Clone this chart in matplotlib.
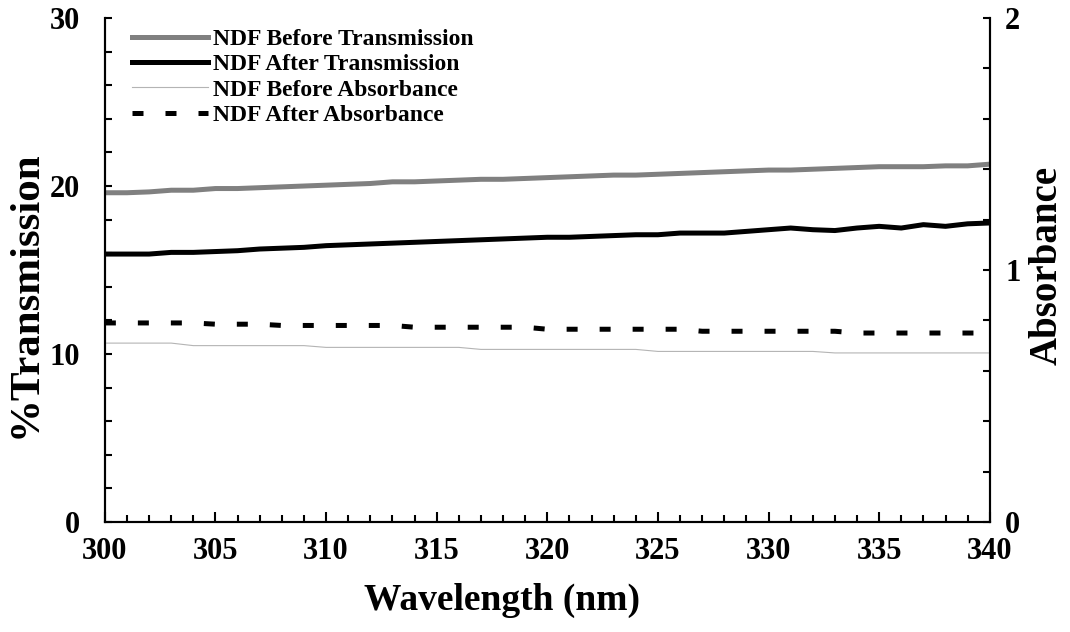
import matplotlib.pyplot as plt
from matplotlib.ticker import MultipleLocator

plt.rcParams.update(
    {
        "font.family": "serif",
        "font.serif": ["Liberation Serif", "DejaVu Serif"],
        "font.weight": "bold",
        "axes.linewidth": 1.5,
    }
)

wavelength = list(range(300, 341))

before_trans = [
    19.6, 19.6, 19.65, 19.75, 19.75, 19.85, 19.85, 19.9, 19.95, 20.0,
    20.05, 20.1, 20.15, 20.25, 20.25, 20.3, 20.35, 20.4, 20.4, 20.45,
    20.5, 20.55, 20.6, 20.65, 20.65, 20.7, 20.75, 20.8, 20.85, 20.9,
    20.95, 20.95, 21.0, 21.05, 21.1, 21.15, 21.15, 21.15, 21.2, 21.2,
    21.3,
]
after_trans = [
    15.95, 15.95, 15.95, 16.05, 16.05, 16.1, 16.15, 16.25, 16.3, 16.35,
    16.45, 16.5, 16.55, 16.6, 16.65, 16.7, 16.75, 16.8, 16.85, 16.9,
    16.95, 16.95, 17.0, 17.05, 17.1, 17.1, 17.2, 17.2, 17.2, 17.3,
    17.4, 17.5, 17.4, 17.35, 17.5, 17.6, 17.5, 17.7, 17.6, 17.75,
    17.8,
]
before_abs = [
    0.71, 0.71, 0.71, 0.71, 0.70, 0.70, 0.70, 0.70, 0.70, 0.70,
    0.693, 0.693, 0.693, 0.693, 0.693, 0.693, 0.693, 0.685, 0.685, 0.685,
    0.685, 0.685, 0.685, 0.685, 0.685, 0.677, 0.677, 0.677, 0.677, 0.677,
    0.677, 0.677, 0.677, 0.671, 0.671, 0.671, 0.671, 0.671, 0.671, 0.671,
    0.671,
]
after_abs = [
    0.79, 0.79, 0.79, 0.79, 0.79, 0.785, 0.785, 0.785, 0.78, 0.78,
    0.78, 0.78, 0.78, 0.78, 0.773, 0.773, 0.773, 0.773, 0.773, 0.773,
    0.765, 0.765, 0.765, 0.765, 0.765, 0.765, 0.765, 0.757, 0.757, 0.757,
    0.757, 0.757, 0.757, 0.757, 0.75, 0.75, 0.75, 0.75, 0.75, 0.75,
    0.75,
]

fig = plt.figure(figsize=(10.7, 6.32), dpi=100)
ax = fig.add_axes([0.098, 0.174, 0.827, 0.7975])
ax2 = ax.twinx()

l1, = ax.plot(wavelength, before_trans, color="#808080", lw=3.6,
              label="NDF Before Transmission")
l2, = ax.plot(wavelength, after_trans, color="black", lw=3.6,
              label="NDF After Transmission")
l3, = ax2.plot(wavelength, before_abs, color="#b4b4b4", lw=0.8,
               label="NDF Before Absorbance")
l4, = ax2.plot(wavelength, after_abs, color="black", lw=3.6,
               dashes=(2.2, 4.4), dash_capstyle="butt",
               label="NDF After Absorbance")

ax.set_xlim(300, 340)
ax.set_ylim(0, 30)
ax2.set_ylim(0, 2)

ax.xaxis.set_major_locator(MultipleLocator(5))
ax.xaxis.set_minor_locator(MultipleLocator(1))
ax.yaxis.set_major_locator(MultipleLocator(10))
ax.yaxis.set_minor_locator(MultipleLocator(2))
ax2.yaxis.set_major_locator(MultipleLocator(1))
ax2.yaxis.set_minor_locator(MultipleLocator(0.2))

ax.tick_params(axis="x", which="both", direction="in", labelsize=22, pad=11)
ax.tick_params(axis="x", which="major", length=7, width=1.5)
ax.tick_params(axis="x", which="minor", length=5, width=1.5)
ax.tick_params(axis="y", which="both", direction="in", labelsize=22,
               pad=18, length=5, width=1.5)
ax2.tick_params(axis="y", which="both", direction="in", labelsize=22,
                pad=11, length=5, width=1.5)

for a in (ax, ax2):
    a.spines["top"].set_visible(False)

ax.set_xlabel("Wavelength (nm)", fontsize=27, fontweight="bold")
ax.xaxis.set_label_coords(0.449, -0.155)
ax.xaxis.label.set_va("center")
ax.set_ylabel("%Transmission", fontsize=31, fontweight="bold")
ax.yaxis.set_label_coords(-0.09, 0.452)
ax.yaxis.label.set_va("center")
ax2.set_ylabel("Absorbance", fontsize=28, fontweight="bold")
ax2.yaxis.set_label_coords(1.065, 0.51)
ax2.yaxis.label.set_va("center")

fig.legend(
    handles=[l1, l2, l3, l4],
    loc="upper left",
    bbox_to_anchor=(0.1235, 0.955),
    frameon=False,
    handlelength=3.2,
    handletextpad=0.22,
    labelspacing=0.16,
    borderpad=0,
    borderaxespad=0,
    prop={"weight": "bold", "size": 17},
)

fig.savefig("out.png", dpi=100)
